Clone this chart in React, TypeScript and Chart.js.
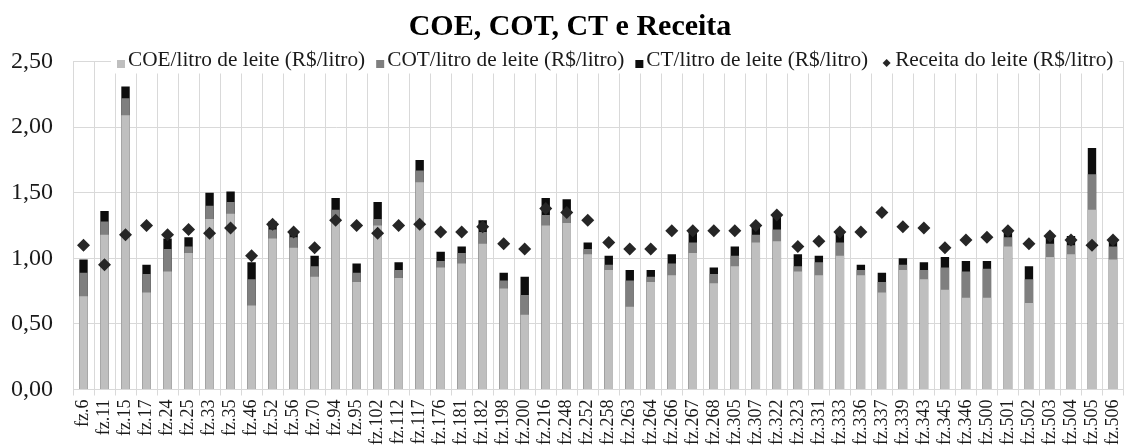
import React, { useEffect, useRef } from 'react';
import { Chart, registerables } from 'chart.js';

Chart.register(...registerables);

const categories = [
  'fz.6', 'fz.11', 'fz.15', 'fz.17', 'fz.24', 'fz.25', 'fz.33', 'fz.35', 'fz.46', 'fz.52',
  'fz.56', 'fz.70', 'fz.94', 'fz.95', 'fz.102', 'fz.112', 'fz.117', 'fz.176', 'fz.181', 'fz.182',
  'fz.198', 'fz.200', 'fz.216', 'fz.248', 'fz.252', 'fz.258', 'fz.263', 'fz.264', 'fz.266', 'fz.267',
  'fz.268', 'fz.305', 'fz.307', 'fz.322', 'fz.323', 'fz.331', 'fz.333', 'fz.336', 'fz.337', 'fz.339',
  'fz.343', 'fz.345', 'fz.346', 'fz.500', 'fz.501', 'fz.502', 'fz.503', 'fz.504', 'fz.505', 'fz.506',
];

// COE/litro de leite (R$/litro)
const coe = [
  0.71, 1.18, 2.09, 0.74, 0.90, 1.04, 1.30, 1.34, 0.64, 1.15,
  1.08, 0.86, 1.31, 0.82, 1.25, 0.85, 1.58, 0.93, 0.96, 1.11,
  0.77, 0.57, 1.25, 1.27, 1.03, 0.91, 0.63, 0.82, 0.87, 1.04,
  0.81, 0.94, 1.12, 1.13, 0.90, 0.87, 1.02, 0.87, 0.74, 0.91,
  0.84, 0.76, 0.70, 0.70, 1.09, 0.66, 1.01, 1.03, 1.37, 0.99,
];

// COT/litro de leite (R$/litro)
const cot = [
  0.89, 1.28, 2.22, 0.88, 1.07, 1.09, 1.40, 1.43, 0.84, 1.22,
  1.16, 0.94, 1.37, 0.89, 1.30, 0.91, 1.67, 0.98, 1.04, 1.20,
  0.83, 0.72, 1.33, 1.34, 1.07, 0.95, 0.83, 0.86, 0.96, 1.12,
  0.88, 1.02, 1.18, 1.22, 0.94, 0.97, 1.12, 0.91, 0.82, 0.95,
  0.91, 0.93, 0.90, 0.92, 1.16, 0.84, 1.11, 1.10, 1.64, 1.09,
];

// CT/litro de leite (R$/litro)
const ct = [
  0.99, 1.36, 2.31, 0.95, 1.15, 1.16, 1.50, 1.51, 0.97, 1.28,
  1.20, 1.02, 1.46, 0.96, 1.43, 0.97, 1.75, 1.05, 1.09, 1.29,
  0.89, 0.86, 1.46, 1.45, 1.12, 1.02, 0.91, 0.91, 1.03, 1.21,
  0.93, 1.09, 1.25, 1.33, 1.03, 1.02, 1.20, 0.95, 0.89, 1.00,
  0.97, 1.01, 0.98, 0.98, 1.21, 0.94, 1.18, 1.17, 1.84, 1.15,
];

// Receita do leite (R$/litro)
const receita = [
  1.10, 0.95, 1.18, 1.25, 1.18, 1.22, 1.19, 1.23, 1.02, 1.26,
  1.20, 1.08, 1.29, 1.25, 1.19, 1.25, 1.26, 1.20, 1.20, 1.24,
  1.11, 1.07, 1.38, 1.35, 1.29, 1.12, 1.07, 1.07, 1.21, 1.21,
  1.21, 1.21, 1.25, 1.33, 1.09, 1.13, 1.20, 1.20, 1.35, 1.24,
  1.23, 1.08, 1.14, 1.16, 1.21, 1.11, 1.17, 1.14, 1.10, 1.14,
];

const seriesNames = [
  'COE/litro de leite (R$/litro)',
  'COT/litro de leite (R$/litro)',
  'CT/litro de leite (R$/litro)',
  'Receita do leite (R$/litro)',
];

const chartTitle = 'COE, COT, CT e Receita';
const yMin = 0;
const yMax = 2.5;
const yStep = 0.5;

const COLORS = ['#bfbfbf', '#7f7f7f', '#0d0d0d', '#262626'];
const GRID = '#d9d9d9';
const FONT = '"Liberation Serif", "Times New Roman", serif';
const TEXT = '#1a1a1a';

const legendPlugin = {
  id: 'excelLegend',
  afterDraw(chart: any) {
    const { ctx, chartArea } = chart;
    ctx.save();
    ctx.font = `21.3px ${FONT}`;
    const box = 8;
    const gapBox = 3;
    const gapItem = 11;
    const slot = (i: number) => (i < 3 ? box : box + 5);
    const widths = seriesNames.map((t, i) => slot(i) + gapBox + ctx.measureText(t).width);
    const total = widths.reduce((a, b) => a + b, 0) + gapItem * (widths.length - 1);
    const startX = chartArea.left + 44;
    const top = chartArea.top;
    ctx.fillStyle = '#ffffff';
    ctx.fillRect(startX - 6, top - 16, total + 12, 28);
    let x = startX;
    seriesNames.forEach((t, i) => {
      ctx.fillStyle = COLORS[i];
      if (i < 3) {
        ctx.fillRect(x, top - 1.5, box, box);
      } else {
        const cx = x + slot(i) / 2 + 1;
        const cy = top + 1.5;
        const r = 4;
        ctx.beginPath();
        ctx.moveTo(cx - r, cy);
        ctx.lineTo(cx, cy - r);
        ctx.lineTo(cx + r, cy);
        ctx.lineTo(cx, cy + r);
        ctx.closePath();
        ctx.fill();
      }
      ctx.fillStyle = TEXT;
      ctx.textBaseline = 'alphabetic';
      ctx.textAlign = 'left';
      ctx.fillText(t, x + slot(i) + gapBox, top + 4);
      x += widths[i] + gapItem;
    });
    ctx.restore();
  },
};

export default function App() {
  const canvasRef = useRef<HTMLCanvasElement | null>(null);

  useEffect(() => {
    const canvas = canvasRef.current;
    if (!canvas) return;
    const chart = new Chart(canvas, {
      type: 'bar',
      data: {
        labels: categories,
        datasets: [
          {
            type: 'line',
            label: seriesNames[3],
            data: receita,
            showLine: false,
            pointStyle: 'rectRot',
            pointRadius: 6.5,
            pointHoverRadius: 6.5,
            pointBackgroundColor: COLORS[3],
            pointBorderWidth: 0,
            borderColor: COLORS[3],
            backgroundColor: COLORS[3],
            order: 0,
          } as any,
          {
            type: 'bar',
            label: seriesNames[0],
            data: coe,
            backgroundColor: COLORS[0],
            grouped: false,
            barPercentage: 0.4,
            categoryPercentage: 1,
            order: 1,
          },
          {
            type: 'bar',
            label: seriesNames[1],
            data: cot,
            backgroundColor: COLORS[1],
            grouped: false,
            barPercentage: 0.4,
            categoryPercentage: 1,
            order: 2,
          },
          {
            type: 'bar',
            label: seriesNames[2],
            data: ct,
            backgroundColor: COLORS[2],
            grouped: false,
            barPercentage: 0.4,
            categoryPercentage: 1,
            order: 3,
          },
        ],
      },
      options: {
        animation: false,
        responsive: false,
        maintainAspectRatio: false,
        events: [],
        layout: { padding: { left: 11, right: 1, top: 0, bottom: 0 } },
        plugins: {
          legend: { display: false },
          tooltip: { enabled: false },
          title: {
            display: true,
            text: chartTitle,
            color: '#000000',
            font: { family: FONT, size: 30, weight: 'bold' },
            padding: { top: 9, bottom: 16.5 },
          },
        },
        scales: {
          x: {
            type: 'category',
            offset: true,
            grid: { color: GRID, lineWidth: 1, offset: true, drawTicks: true, tickLength: 6 },
            border: { color: GRID, width: 1 },
            ticks: {
              color: TEXT,
              font: { family: FONT, size: 18 },
              minRotation: 90,
              maxRotation: 90,
              autoSkip: false,
              padding: 4,
            },
            afterFit: (scale: any) => {
              scale.height = 55.5;
              scale.paddingLeft = 0;
              scale.paddingRight = 0;
            },
          },
          y: {
            min: yMin,
            max: yMax,
            grid: { color: GRID, lineWidth: 1, drawTicks: false },
            border: { color: GRID, width: 1 },
            ticks: {
              stepSize: yStep,
              color: TEXT,
              font: { family: FONT, size: 24 },
              padding: 20,
              callback: (v: any) => Number(v).toFixed(2).replace('.', ','),
            },
            afterFit: (scale: any) => {
              scale.width = 62;
              scale.paddingTop = 0;
              scale.paddingBottom = 0;
            },
          },
        },
      },
      plugins: [legendPlugin],
    });
    return () => chart.destroy();
  }, []);

  return (
    <div style={{ position: 'fixed', left: 0, top: 0, width: 1127, height: 445, overflow: 'hidden', background: '#fff' }}>
      <canvas ref={canvasRef} width={1130} height={445} style={{ display: 'block' }} />
    </div>
  );
}
